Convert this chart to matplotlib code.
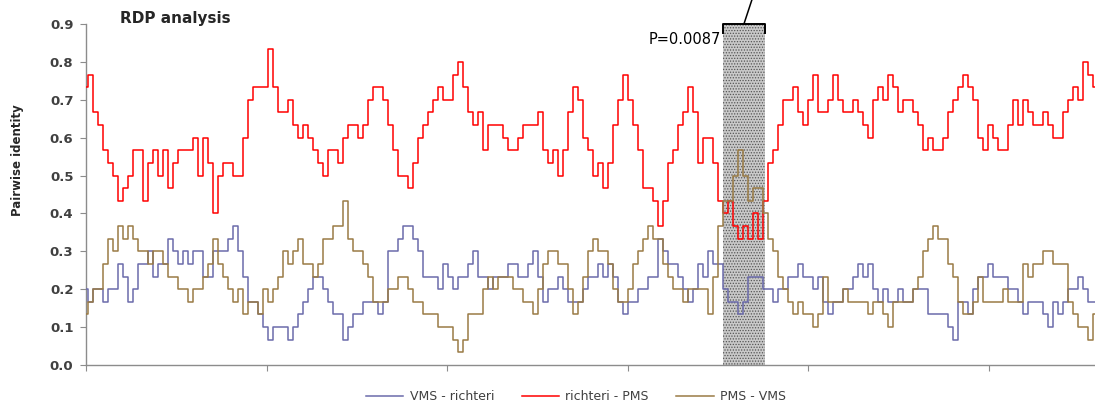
import numpy as np
import matplotlib
matplotlib.use("Agg")
import matplotlib.pyplot as plt
from matplotlib.patches import Rectangle

# Pairwise identity values expressed as matching sites out of a 30-site window
WINDOW = 30
vms_richteri = [
    6, 5, 6, 6, 5, 6, 6, 8, 7, 5, 6, 8, 8, 9, 7, 8, 8, 10, 9, 8,
    9, 8, 9, 9, 7, 7, 9, 9, 9, 10, 11, 9, 7, 5, 5, 4, 3, 2, 3, 3,
    3, 2, 3, 4, 5, 6, 7, 7, 6, 5, 4, 4, 2, 3, 4, 4, 5, 5, 5, 4,
    5, 9, 9, 10, 11, 11, 10, 9, 7, 7, 7, 6, 8, 7, 6, 7, 7, 8, 9, 7,
    7, 6, 7, 7, 7, 8, 8, 7, 7, 8, 9, 7, 5, 6, 6, 7, 6, 5, 5, 5,
    6, 7, 7, 8, 7, 8, 7, 5, 4, 5, 5, 6, 6, 7, 7, 10, 9, 8, 8, 7,
    6, 5, 6, 8, 7, 9, 8, 8, 6, 5, 5, 4, 5, 7, 7, 7, 6, 6, 5, 6,
    6, 7, 7, 8, 7, 7, 6, 7, 5, 4, 5, 5, 6, 6, 7, 8, 7, 8, 6, 5,
    6, 5, 5, 6, 5, 5, 6, 6, 6, 4, 4, 4, 4, 3, 2, 5, 5, 4, 6, 7,
    7, 8, 7, 7, 7, 6, 6, 5, 4, 5, 5, 5, 4, 3, 5, 4, 5, 6, 6, 7,
    6, 5, 5,
]
richteri_pms = [
    22, 23, 20, 19, 17, 16, 15, 13, 14, 15, 17, 17, 13, 16, 17, 15, 17, 14, 16, 17,
    17, 17, 18, 15, 18, 16, 12, 15, 16, 16, 15, 15, 18, 21, 22, 22, 22, 25, 22, 20,
    20, 21, 19, 18, 19, 18, 17, 16, 15, 17, 17, 16, 18, 19, 19, 18, 19, 21, 22, 22,
    21, 19, 17, 15, 15, 14, 16, 18, 19, 20, 21, 22, 21, 21, 23, 24, 22, 20, 19, 20,
    17, 19, 19, 19, 18, 17, 17, 18, 19, 19, 19, 20, 17, 16, 17, 15, 17, 20, 22, 21,
    18, 17, 15, 16, 14, 16, 19, 21, 23, 21, 19, 17, 14, 14, 13, 11, 13, 16, 17, 19,
    20, 22, 20, 16, 18, 18, 16, 13, 12, 13, 11, 10, 11, 10, 12, 10, 13, 16, 17, 19,
    21, 21, 22, 20, 19, 21, 23, 20, 20, 21, 23, 21, 20, 20, 21, 20, 19, 18, 21, 22,
    21, 23, 22, 20, 21, 21, 20, 19, 17, 18, 17, 17, 18, 20, 21, 22, 23, 22, 21, 18,
    17, 19, 18, 17, 17, 19, 21, 19, 21, 20, 19, 19, 20, 19, 18, 18, 20, 21, 22, 21,
    24, 23, 22,
]
pms_vms = [
    4, 5, 6, 6, 8, 10, 9, 11, 10, 11, 10, 9, 9, 8, 9, 9, 8, 7, 7, 6,
    6, 5, 6, 6, 7, 8, 10, 8, 7, 6, 5, 6, 4, 5, 5, 4, 6, 5, 6, 7,
    9, 8, 9, 10, 8, 8, 7, 8, 10, 10, 11, 11, 13, 10, 9, 9, 8, 7, 5, 5,
    5, 6, 6, 7, 7, 6, 5, 5, 4, 4, 4, 3, 3, 3, 2, 1, 2, 4, 4, 4,
    6, 7, 6, 7, 7, 7, 6, 6, 5, 5, 4, 6, 8, 9, 9, 8, 8, 6, 4, 5,
    7, 9, 10, 9, 9, 8, 6, 5, 5, 6, 8, 9, 10, 11, 10, 10, 8, 7, 6, 6,
    5, 6, 6, 6, 6, 4, 7, 11, 13, 13, 15, 17, 15, 13, 14, 14, 12, 10, 9, 7,
    6, 5, 4, 5, 4, 4, 3, 4, 7, 5, 5, 5, 6, 5, 5, 5, 5, 4, 5, 5,
    4, 3, 5, 5, 5, 5, 6, 7, 9, 10, 11, 10, 10, 8, 7, 5, 4, 4, 5, 7,
    5, 5, 5, 5, 6, 5, 5, 5, 8, 7, 8, 8, 9, 9, 8, 8, 8, 5, 4, 3,
    3, 2, 4,
]
series_names = ["VMS - richteri", "richteri - PMS", "PMS - VMS"]
series_colors = ["#6b6bab", "#ff0000", "#9a7b45"]

SITE_STEP = 2.77          # alignment positions between successive windows
x_max = 559
x_ticks = [0, 100, 200, 300, 400, 500]
y_ticks = [0.0, 0.1, 0.2, 0.3, 0.4, 0.5, 0.6, 0.7, 0.8, 0.9]
break_start, break_end = 353, 376
p_label = "P=0.0087"

plt.rcParams["hatch.linewidth"] = 0.6
plt.rcParams["hatch.color"] = "#555555"

fig = plt.figure(figsize=(10.95, 4.04), dpi=100)
ax = fig.add_axes([86 / 1095, 1 - 365 / 404, 1009 / 1095, 341 / 404])

sites = np.arange(len(richteri_pms)) * SITE_STEP
for vals, name, col in zip([vms_richteri, richteri_pms, pms_vms], series_names, series_colors):
    ax.plot(sites, np.array(vals) / WINDOW, color=col, lw=1.1, drawstyle="steps-mid",
            label=name, zorder=3)

# breakpoint region (dotted fill)
ax.add_patch(Rectangle((break_start, 0), break_end - break_start, 0.9,
                       facecolor="#c9c9c9", edgecolor="#555555", hatch="......",
                       lw=0, zorder=2))

# bracket and leader line
ax.plot([break_start, break_start, break_end, break_end], [0.877, 0.9, 0.9, 0.877],
        color="black", lw=1.4, clip_on=False, zorder=5)
mid = (break_start + break_end) / 2
ax.plot([mid, mid + 4.5], [0.9, 0.965], color="black", lw=1.1, clip_on=False, zorder=5)
ax.text(break_start - 1, 0.86, p_label, ha="right", va="center", fontsize=10.5,
        color="black")

ax.set_xlim(0, x_max)
ax.set_ylim(0, 0.9)
ax.set_xticks(x_ticks)
ax.set_xticklabels([])
ax.set_yticks(y_ticks)
ax.set_yticklabels([f"{v:.1f}" for v in y_ticks], fontsize=9.5, fontweight="bold",
                   color="#404040")
for s in ["top", "right"]:
    ax.spines[s].set_visible(False)
for s in ["left", "bottom"]:
    ax.spines[s].set_color("#8c8c8c")
    ax.spines[s].set_linewidth(1.0)
ax.tick_params(axis="both", direction="out", length=4, color="#8c8c8c", pad=5)

fig.text(120 / 1095, 1 - 19 / 404, "RDP analysis", fontsize=11, fontweight="bold",
         ha="left", va="center", color="#262626")
fig.text(18 / 1095, 1 - 160 / 404, "Pairwise identity", fontsize=8.5, fontweight="bold",
         rotation=90, ha="center", va="center", color="#262626")

fig.legend(loc="center", bbox_to_anchor=(0.526, 0.018), ncol=3, frameon=False,
           fontsize=9, handlelength=3.0, handletextpad=0.5, columnspacing=2.2,
           labelcolor="#404040")

fig.savefig("out.png", dpi=100)
